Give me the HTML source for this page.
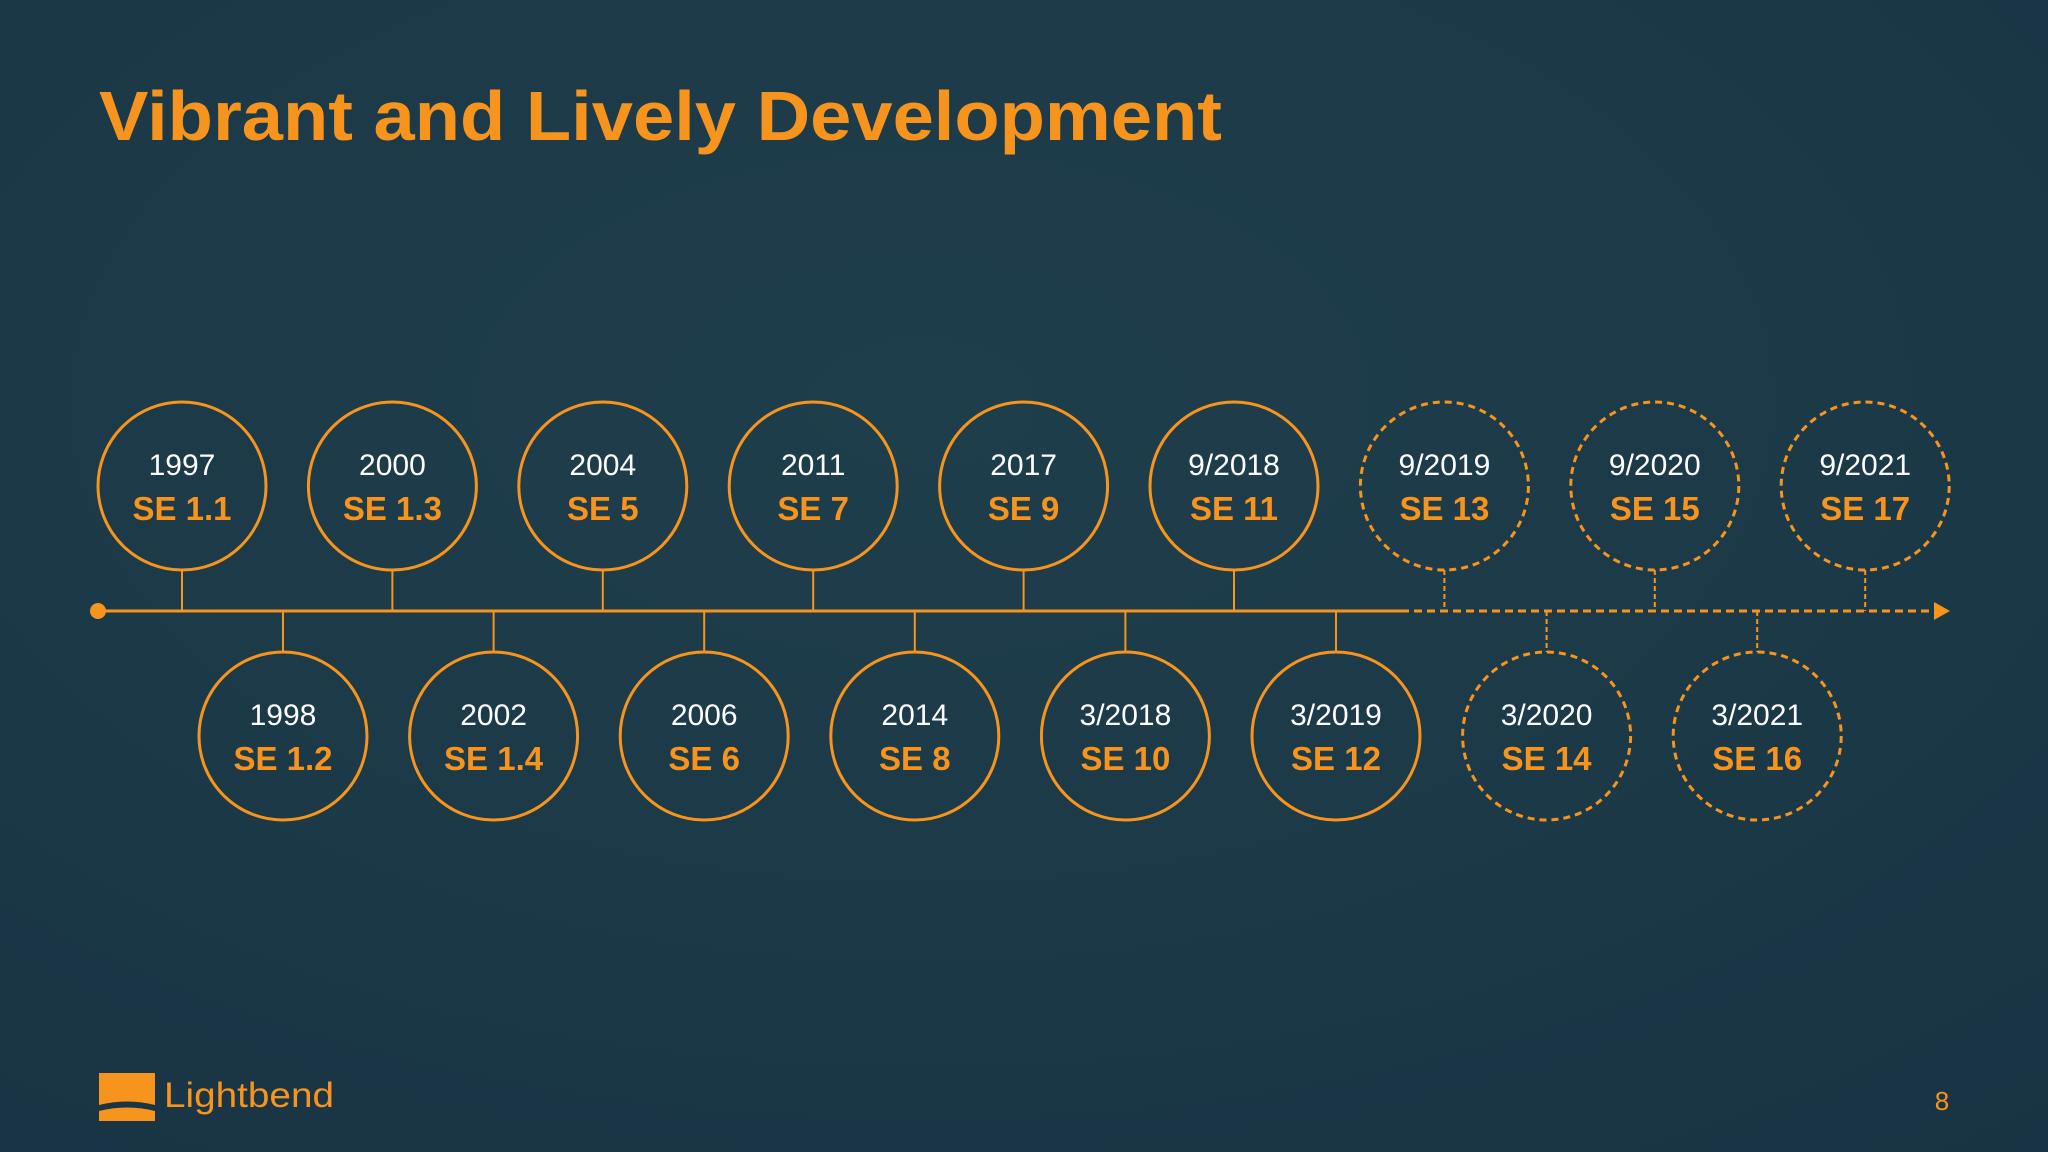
<!DOCTYPE html>
<html><head><meta charset="utf-8"><style>
html,body{margin:0;padding:0;width:2048px;height:1152px;overflow:hidden;background:#1b3645}
svg{display:block}
</style></head><body>
<svg id="s" width="2048" height="1152" viewBox="0 0 2048 1152" xmlns="http://www.w3.org/2000/svg">
<defs>
<radialGradient id="bg" cx="0.45" cy="0.35" r="0.9">
<stop offset="0" stop-color="#1f3e4b"/><stop offset="0.6" stop-color="#1b3847"/><stop offset="1" stop-color="#183242"/>
</radialGradient>
</defs>
<rect width="2048" height="1152" fill="url(#bg)"/>
<text x="99" y="140" font-family="Liberation Sans, sans-serif" font-weight="bold" font-size="70" fill="#f7941d" textLength="1123" lengthAdjust="spacingAndGlyphs">Vibrant and Lively Development</text>
<g id="tl"></g>
<g>
<path d="M99 1073 H155 V1105 Q127 1098 99 1105 Z" fill="#f7941d"/>
<path d="M99 1111 Q127 1104 155 1111 V1121 H99 Z" fill="#f7941d"/>
<text x="164" y="1107" font-family="Liberation Sans, sans-serif" font-size="35" fill="#f7941d" textLength="170" lengthAdjust="spacingAndGlyphs">Lightbend</text>
</g>
<text x="1942" y="1110" font-family="Liberation Sans, sans-serif" font-size="26" fill="#f7941d" text-anchor="middle">8</text>
</svg>
<script>
const topDates=["1997","2000","2004","2011","2017","9/2018","9/2019","9/2020","9/2021"];
const topVersions=["SE 1.1","SE 1.3","SE 5","SE 7","SE 9","SE 11","SE 13","SE 15","SE 17"];
const topPlanned=[false,false,false,false,false,false,true,true,true];
const bottomDates=["1998","2002","2006","2014","3/2018","3/2019","3/2020","3/2021"];
const bottomVersions=["SE 1.2","SE 1.4","SE 6","SE 8","SE 10","SE 12","SE 14","SE 16"];
const bottomPlanned=[false,false,false,false,false,false,true,true];

const NS="http://www.w3.org/2000/svg";
const g=document.getElementById('tl');
const O="#f7941d";
const axisY=611, R=84, topY=486, botY=736;
const xTop=i=>182+i*210.4;
const xBot=i=>283+i*210.6;
const dashStart=1401, xEnd=1950;
function mk(t,a){const e=document.createElementNS(NS,t);for(const k in a)e.setAttribute(k,a[k]);g.appendChild(e);return e;}
let l=mk('line',{x1:98,y1:axisY,x2:dashStart,y2:axisY,stroke:O,'stroke-width':3});


l=mk('line',{x1:dashStart,y1:axisY,x2:xEnd-14,y2:axisY,stroke:O,'stroke-width':3,'stroke-dasharray':'8 5'});


let c=mk('circle',{cx:98,cy:axisY,r:8,fill:O});


let p=mk('path',{d:`M${xEnd-16} ${axisY-9} L${xEnd} ${axisY} L${xEnd-16} ${axisY+9} Z`,fill:O});


function node(x,cy,date,ver,planned,up){
  const dash=planned?'7 5':'none';
  const y1=up?cy+R:axisY, y2=up?axisY:cy-R;
  let s=mk('line',{x1:x,y1:y1,x2:x,y2:y2,stroke:O,'stroke-width':2,'stroke-dasharray':planned?'5 3':'none'});
  
  
  let ci=mk('circle',{cx:x,cy:cy,r:R,fill:'none',stroke:O,'stroke-width':3,'stroke-dasharray':dash});
  
  
  let t=mk('text',{x:x,y:cy-11,'text-anchor':'middle','font-family':'Liberation Sans, sans-serif','font-size':30,fill:'#ffffff'});
  t.textContent=date;
  
  
  let v=mk('text',{x:x,y:cy+34,'text-anchor':'middle','font-family':'Liberation Sans, sans-serif','font-weight':'bold','font-size':33,fill:O});
  v.textContent=ver;
  
  
}
topDates.forEach((d,i)=>node(xTop(i),topY,d,topVersions[i],topPlanned[i],true));
bottomDates.forEach((d,i)=>node(xBot(i),botY,d,bottomVersions[i],bottomPlanned[i],false));
</script>
</body></html>
